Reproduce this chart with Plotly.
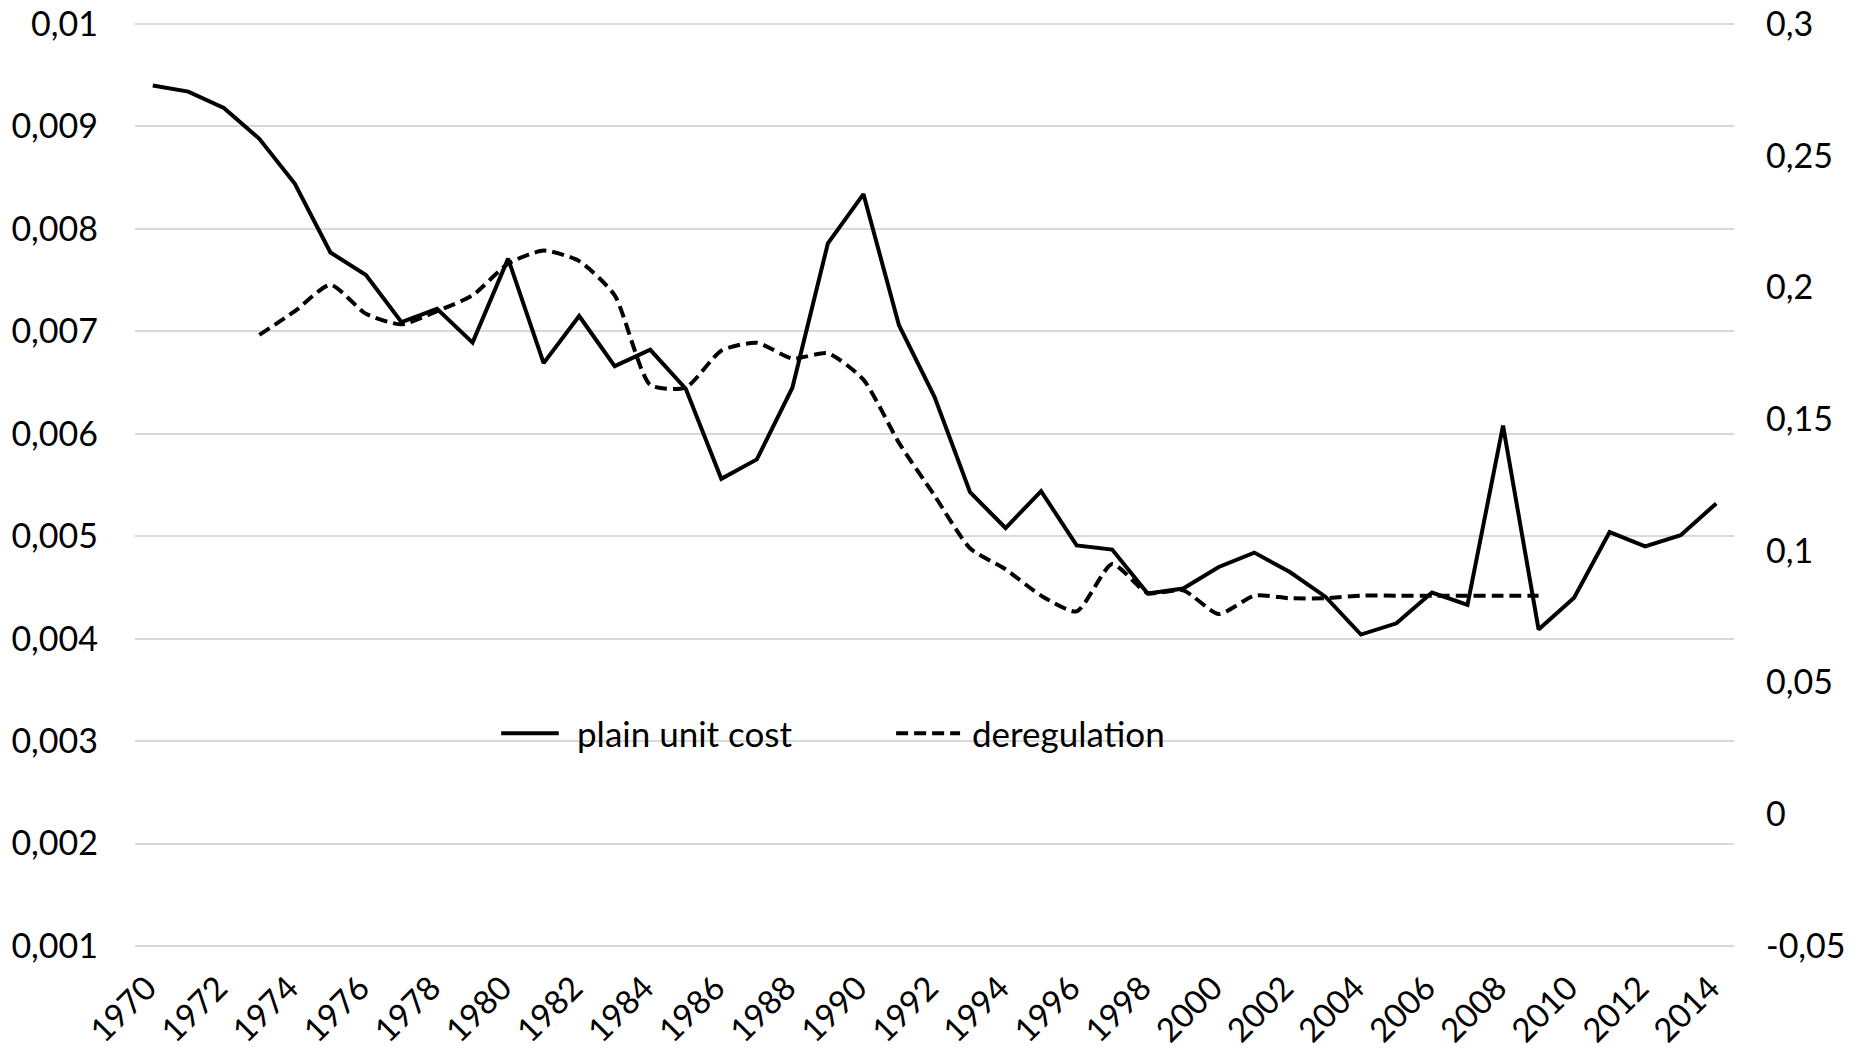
import plotly.graph_objects as go

years = list(range(1970, 2015))
plain_unit_cost = [
    0.00940, 0.00934, 0.00918, 0.00888, 0.00844, 0.00777, 0.00755, 0.00709, 0.00722, 0.00689,
    0.00771, 0.00669, 0.00715, 0.00666, 0.00682, 0.00644, 0.00556, 0.00575, 0.00645, 0.00786,
    0.00834, 0.00706, 0.00636, 0.00543, 0.00508, 0.00544, 0.00491, 0.00487, 0.00444, 0.00449,
    0.00470, 0.00484, 0.00465, 0.00441, 0.00404, 0.00415, 0.00445, 0.00433, 0.00608, 0.00409,
    0.00440, 0.00504, 0.00490, 0.00501, 0.00532,
]

dereg_years = list(range(1973, 2010))
deregulation = [
    0.182, 0.191, 0.201, 0.190, 0.186, 0.191, 0.197, 0.209, 0.214, 0.210,
    0.197, 0.163, 0.162, 0.176, 0.179, 0.173, 0.175, 0.165, 0.141, 0.121,
    0.101, 0.093, 0.083, 0.077, 0.095, 0.084, 0.085, 0.076, 0.083, 0.082,
    0.082, 0.083, 0.083, 0.083, 0.083, 0.083, 0.083,
]

series_names = ["plain unit cost", "deregulation"]

left_ticks = [0.001, 0.002, 0.003, 0.004, 0.005, 0.006, 0.007, 0.008, 0.009, 0.01]
left_labels = ["0,001", "0,002", "0,003", "0,004", "0,005", "0,006", "0,007", "0,008", "0,009", "0,01"]
right_ticks = [-0.05, 0.0, 0.05, 0.1, 0.15, 0.2, 0.25, 0.3]
right_labels = ["-0,05", "0", "0,05", "0,1", "0,15", "0,2", "0,25", "0,3"]
x_ticks = years[::2]
x_labels = [str(y) for y in x_ticks]

FONT = "Lato"
FS = 34
FS_X = 33
LW = 4
DASH = "12px,6px"
PAD_L = 0.00002            # small padding so edge gridlines are drawn
PAD_R = PAD_L * 0.35 / 0.009

fig = go.Figure()
fig.add_trace(go.Scatter(
    x=years, y=plain_unit_cost, name=series_names[0], mode="lines",
    line=dict(color="black", width=LW), showlegend=False,
))
fig.add_trace(go.Scatter(
    x=dereg_years, y=deregulation, name=series_names[1], mode="lines", yaxis="y2",
    line=dict(color="black", width=LW, dash=DASH, shape="spline", smoothing=0.6),
    showlegend=False,
))

# Custom legend (Excel-style long line samples), placed in paper coordinates
legend_y = 0.232
legend_items = [
    dict(x0=0.229, x1=0.265, tx=0.276, dash="solid", text=series_names[0]),
    dict(x0=0.476, x1=0.516, tx=0.523, dash=DASH, text=series_names[1]),
]
shapes = []
annotations = []
for it in legend_items:
    shapes.append(dict(
        type="line", xref="paper", yref="paper", x0=it["x0"], x1=it["x1"],
        y0=legend_y, y1=legend_y, line=dict(color="black", width=LW, dash=it["dash"]),
    ))
    annotations.append(dict(
        xref="paper", yref="paper", x=it["tx"], y=legend_y, xanchor="left", yanchor="middle",
        text=it["text"], showarrow=False, font=dict(family=FONT, size=FS + 1, color="black"),
        borderpad=0,
    ))

fig.update_layout(
    width=1865, height=1051,
    margin=dict(l=135, r=131, t=22, b=103),
    paper_bgcolor="white", plot_bgcolor="white",
    font=dict(family=FONT, size=FS, color="black"),
    showlegend=False,
    shapes=shapes,
    annotations=annotations,
    xaxis=dict(
        range=[1969.5, 2014.5], tickmode="array", tickvals=x_ticks, ticktext=x_labels,
        tickangle=-45, showgrid=False, zeroline=False, showline=False, ticks="",
        ticklabelstandoff=13, ticklabelshift=-6, automargin=False, ticklabeloverflow="allow",
        tickfont=dict(family=FONT, size=FS_X, color="black"),
    ),
    yaxis=dict(
        range=[0.001 - PAD_L, 0.01 + PAD_L], tickmode="array", tickvals=left_ticks,
        ticktext=left_labels,
        showgrid=True, gridcolor="#d9d9d9", gridwidth=2, zeroline=False, showline=False,
        ticks="", ticklabelstandoff=36, automargin=False, ticklabeloverflow="allow",
        tickfont=dict(family=FONT, size=FS, color="black"),
    ),
    yaxis2=dict(
        range=[-0.05 - PAD_R, 0.3 + PAD_R], tickmode="array", tickvals=right_ticks,
        ticktext=right_labels,
        overlaying="y", side="right", showgrid=False, zeroline=False, showline=False,
        ticks="", ticklabelstandoff=31, automargin=False, ticklabeloverflow="allow",
        tickfont=dict(family=FONT, size=FS, color="black"),
    ),
)

fig.write_html(
    "out.html",
    config={"displayModeBar": False},
    post_script="document.body.style.margin='0';document.body.style.overflow='hidden';",
)
